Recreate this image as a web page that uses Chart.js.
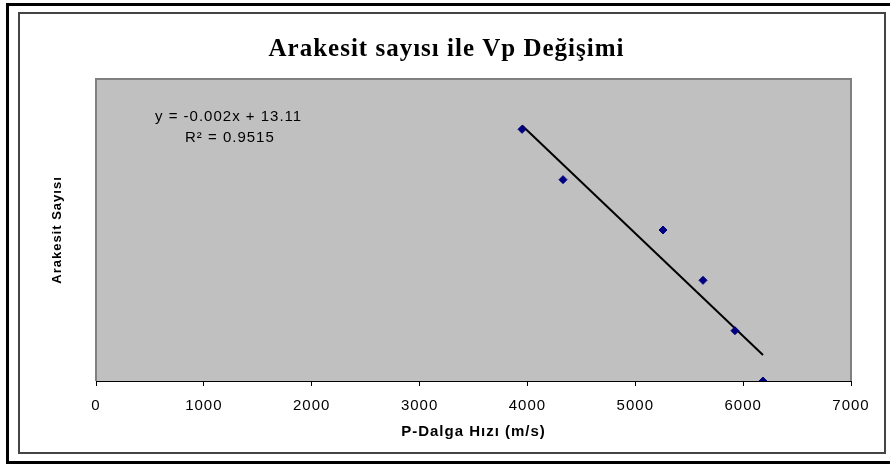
<!DOCTYPE html>
<html>
<head>
<meta charset="utf-8">
<title>Arakesit sayısı ile Vp Değişimi</title>
<script src="https://cdn.jsdelivr.net/npm/chart.js@4.4.1/dist/chart.umd.min.js"></script>
<style>
  body { margin: 0; background: #fff; overflow: hidden; }
  #wrap { position: relative; width: 890px; height: 467px; overflow: hidden; }
  #wrap canvas { position: absolute; left: 0; top: 0; }
  .frame { position: absolute; box-sizing: border-box; pointer-events: none; }
  #outer { left: 6px; top: 3px; width: 900px; height: 461px; border: 3px solid #000; }
  #inner { left: 18px; top: 12px; width: 868px; height: 442px; border: 2px solid #444; }
</style>
</head>
<body>
<div id="wrap">
  <canvas id="vpChart" width="890" height="467"></canvas>
  <div class="frame" id="outer"></div>
  <div class="frame" id="inner"></div>
</div>
<script>
// P-dalga hızı (m/s) ve arakesit sayısı
const vp = [3950, 4330, 5257, 5628, 5924, 6184];
const arakesit = [5, 4, 3, 2, 1, 0];
const xTicks = [0, 1000, 2000, 3000, 4000, 5000, 6000, 7000];
const trendLabels = ['y = -0.002x + 13.11', 'R² = 0.9515'];

const SANS = '"Liberation Sans", Arial, sans-serif';

// Excel tarzı doğrusal eğilim çizgisi (en küçük kareler)
function trendLine(xs, ys) {
    const n = xs.length;
    const mx = xs.reduce((a, b) => a + b, 0) / n;
    const my = ys.reduce((a, b) => a + b, 0) / n;
    let sxy = 0, sxx = 0;
    for (let i = 0; i < n; i++) {
        sxy += (xs[i] - mx) * (ys[i] - my);
        sxx += (xs[i] - mx) * (xs[i] - mx);
    }
    const b = sxy / sxx;
    const a = my - b * mx;
    const x0 = Math.min(...xs), x1 = Math.max(...xs);
    return [{ x: x0, y: a + b * x0 }, { x: x1, y: a + b * x1 }];
}

// gri çizim alanı + kenarlık, eğilim denklemi
const plotArea = {
    id: 'plotArea',
    beforeInit(chart) {
        // Excel'deki geniş yazı görünümü için
        chart.ctx.letterSpacing = '1px';
    },
    beforeDraw(chart) {
        const { ctx, chartArea: a } = chart;
        ctx.letterSpacing = '1px';
        ctx.save();
        ctx.fillStyle = '#c0c0c0';
        ctx.fillRect(a.left, a.top, a.right - a.left, a.bottom - a.top);
        ctx.strokeStyle = '#808080';
        ctx.lineWidth = 2;
        ctx.beginPath();
        ctx.moveTo(a.left, a.bottom);
        ctx.lineTo(a.left, a.top);
        ctx.lineTo(a.right, a.top);
        ctx.lineTo(a.right, a.bottom);
        ctx.stroke();
        ctx.restore();
    },
    afterDraw(chart) {
        const { ctx, chartArea: a } = chart;
        ctx.save();
        ctx.font = '15px ' + SANS;
        ctx.fillStyle = '#000';
        ctx.textBaseline = 'middle';
        ctx.fillText(trendLabels[0], a.left + 59, a.top + 38);
        ctx.fillText(trendLabels[1], a.left + 89, a.top + 59);
        ctx.restore();
    }
};

const ctx = document.getElementById('vpChart').getContext('2d');

new Chart(ctx, {
    type: 'scatter',
    data: {
        datasets: [{
            label: 'Arakesit sayısı',
            data: vp.map((v, i) => ({ x: v, y: arakesit[i] })),
            pointStyle: 'rectRot',
            pointRadius: 4,
            backgroundColor: '#000080',
            borderColor: '#000080',
        }, {
            label: 'Doğrusal',
            data: trendLine(vp, arakesit),
            showLine: true,
            borderColor: '#000',
            borderWidth: 2,
            pointRadius: 0,
        }]
    },
    options: {
        responsive: false,
        animation: false,
        layout: { padding: { left: 42, right: 39, top: 0, bottom: 0 } },
        plugins: {
            legend: { display: false },
            tooltip: { enabled: false },
            title: {
                display: true,
                text: 'Arakesit sayısı ile Vp Değişimi',
                color: '#000',
                font: { family: '"Liberation Serif", "Times New Roman", serif', size: 25, weight: 'bold' },
                padding: { top: 35, bottom: 14 }
            }
        },
        scales: {
            x: {
                type: 'linear',
                min: 0,
                max: 7000,
                afterBuildTicks: s => { s.ticks = xTicks.map(v => ({ value: v })); },
                ticks: {
                    callback: v => String(v),
                    color: '#000',
                    font: { family: SANS, size: 15 },
                    padding: 11
                },
                grid: { drawOnChartArea: false, drawTicks: true, tickLength: 5, color: '#000' },
                border: { display: true, color: '#000', width: 1 },
                title: {
                    display: true,
                    text: 'P-Dalga Hızı (m/s)',
                    color: '#000',
                    font: { family: SANS, size: 15, weight: 'bold' },
                    padding: { top: 0, bottom: 26 }
                },
                afterFit: s => { s.height = 86; }
            },
            y: {
                min: 0,
                max: 6,
                ticks: { display: false },
                grid: { display: false },
                border: { display: false },
                title: {
                    display: true,
                    text: 'Arakesit Sayısı',
                    color: '#000',
                    font: { family: SANS, size: 13, weight: 'bold' },
                    padding: { top: 7.2, bottom: 0 }
                },
                afterFit: s => { s.width = 54; }
            }
        }
    },
    plugins: [plotArea]
});
</script>
</body>
</html>
